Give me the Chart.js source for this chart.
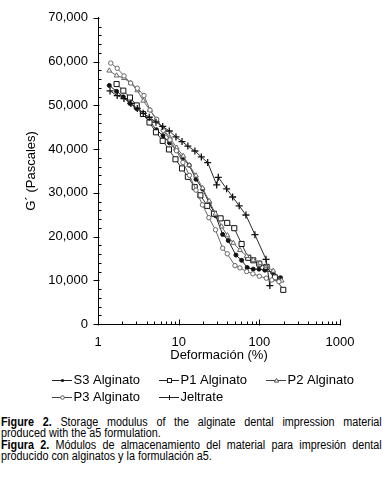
<!DOCTYPE html>
<html>
<head>
<meta charset="utf-8">
<script src="https://cdn.jsdelivr.net/npm/chart.js@4.4.0/dist/chart.umd.min.js"></script>
<style>
html,body{margin:0;padding:0;background:#fff;}
#wrap{position:relative;width:383px;height:479px;overflow:hidden;background:#fff;}
canvas{display:block;}
#cap{position:absolute;left:1px;top:417px;width:423px;transform:scaleX(0.9);transform-origin:0 0;
  font-family:"Liberation Sans",Arial,sans-serif;font-size:12px;line-height:11.4px;color:#000;}
#cap div{white-space:nowrap;}
#cap div.j{text-align:justify;text-align-last:justify;white-space:normal;}
</style>
</head>
<body>
<div id="wrap">
<canvas id="c" width="383" height="410"></canvas>
<div id="cap">
<div class="j"><b>Figure 2.</b> Storage modulus of the alginate dental impression material</div>
<div>produced with the a5 formulation.</div>
<div class="j"><b>Figura 2.</b> Módulos de almacenamiento del material para impresión dental</div>
<div>producido con alginatos y la formulación a5.</div>
</div>
</div>
<script>
// ---- data ----
const seriesNames = ['S3 Alginato', 'P1 Alginato', 'P2 Alginato', 'P3 Alginato', 'Jeltrate'];

const s3X = [1.38,1.70,2.06,2.49,3.00,3.61,4.35,5.31,6.39,7.69,9.26,11.2,13.5,16.4,19.8,23.9,28.7,35.1,41.2,51.3,60.3,70.8,84.0,98.9,117,146,183];
const s3Y = [54537,53186,51926,50418,49293,48010,46366,44408,43058,41415,39839,38039,36305,33087,30836,27685,24759,20482,19064,15756,14563,12897,12537,12537,12312,11772,10579];

const p1X = [1.70,2.06,2.49,3.02,3.61,4.35,5.23,6.34,7.58,9.13,11.0,13.0,15.8,18.6,22.6,27.4,33.1,40.0,48.9,60.3,72.9,84.0,99.7,123,156,198];
const p1Y = [54852,53344,51768,49968,48010,46074,43823,41865,39907,37656,35563,33649,31286,29418,27010,25209,24151,23116,21900,18299,15148,14563,13798,13055,10646,7810];

const p2X = [1.38,1.70,2.10,2.54,3.07,3.64,4.41,5.34,6.45,7.80,9.45,11.4,13.5,16.4,19.8,23.9,28.6,34.1,40.2,47.5,57.5,69.6,84.0,102,123,149,189];
const p2Y = [57913,56788,56202,55077,53411,51026,48910,46659,44566,42540,40289,38421,36305,33920,31061,28135,25209,22283,20257,18524,16881,15531,14630,13955,13167,12154,9904];

const p3X = [1.44,1.73,2.10,2.54,3.07,3.72,4.41,5.34,6.45,7.80,9.39,11.3,13.6,16.4,19.7,23.7,28.6,35.1,40.0,49.9,57.5,69.6,83.3,100,122,143,175];
const p3Y = [59646,58453,56720,55077,53907,52219,48910,46817,44273,42090,39614,36913,33987,30611,27235,24309,21540,17331,16048,13347,12830,11997,11479,10916,10466,10061,9678];

const jeX = [1.41,1.73,2.10,2.56,3.07,3.64,4.32,5.23,6.34,7.65,9.26,11.0,13.0,15.9,19.1,22.9,29.6,31.0,39.3,46.7,56.3,68.2,88.2,121,135];
const jeY = [53276,52218,51543,50418,49293,48167,47267,46141,45174,44116,42765,41708,40672,39547,38196,36913,31804,33537,30903,29035,27010,24916,20415,14788,8778];

// ---- ticks ----
const xMajorTicks = [1, 10, 100, 1000];
const xTickValues = [1,2,3,4,5,6,7,8,9,10,20,30,40,50,60,70,80,90,100,200,300,400,500,600,700,800,900,1000];
const yMajorTicks = [0,10000,20000,30000,40000,50000,60000,70000];
const yTickValues = [0,2000,4000,6000,8000,10000,12000,14000,16000,18000,20000,22000,24000,26000,28000,30000,32000,34000,36000,38000,40000,42000,44000,46000,48000,50000,52000,54000,56000,58000,60000,62000,64000,66000,68000,70000];

const FONT = '"Liberation Sans", Arial, sans-serif';

function pts(xs, ys) { return xs.map((x, i) => ({x: x, y: ys[i]})); }

function legendGlyph(kind, lineColor, markColor) {
  const c = document.createElement('canvas');
  c.width = 60; c.height = 11;
  const g = c.getContext('2d');
  g.strokeStyle = lineColor; g.lineWidth = 1;
  g.beginPath(); g.moveTo(30, 5.5); g.lineTo(50, 5.5); g.stroke();
  g.strokeStyle = markColor; g.fillStyle = markColor;
  const cx = 40.5, cy = 5.5;
  g.beginPath();
  if (kind === 'dot') { g.arc(cx, cy, 1.6, 0, Math.PI * 2); g.fill(); }
  else if (kind === 'square') { g.fillStyle = '#fff'; g.fillRect(cx - 2, cy - 2, 4, 4); g.strokeRect(cx - 2, cy - 2, 4, 4); }
  else if (kind === 'tri') { g.fillStyle = '#fff'; g.moveTo(cx, cy - 2.2); g.lineTo(cx + 2.2, cy + 1.6); g.lineTo(cx - 2.2, cy + 1.6); g.closePath(); g.fill(); g.stroke(); }
  else if (kind === 'circ') { g.fillStyle = '#fff'; g.arc(cx, cy, 1.8, 0, Math.PI * 2); g.fill(); g.stroke(); }
  else if (kind === 'cross') { g.moveTo(cx, cy - 2.5); g.lineTo(cx, cy + 2.5); g.stroke(); }
  return c;
}
const legendGlyphs = [
  legendGlyph('dot', '#222', '#111'),
  legendGlyph('square', '#222', '#222'),
  legendGlyph('tri', '#444', '#555'),
  legendGlyph('circ', '#444', '#555'),
  legendGlyph('cross', '#222', '#111')
];

const tickMarks = {
  id: 'tickMarks',
  afterDraw(chart) {
    const {ctx, chartArea: a} = chart;
    const xs = chart.scales.x, ys = chart.scales.y;
    ctx.save();
    ctx.strokeStyle = '#000'; ctx.lineWidth = 1;
    ctx.beginPath();
    const lx = Math.round(a.left) + 0.5;
    ys.ticks.forEach(t => {
      const py = Math.round(ys.getPixelForValue(t.value)) + 0.5;
      if (yMajorTicks.includes(t.value)) { ctx.moveTo(lx - 5, py); ctx.lineTo(lx + 1, py); }
      else { ctx.moveTo(lx, py); ctx.lineTo(lx + 3, py); }
    });
    const by = Math.round(a.bottom) + 0.5;
    xs.ticks.forEach(t => {
      const px = Math.round(xs.getPixelForValue(t.value)) + 0.5;
      if (xMajorTicks.includes(t.value)) { ctx.moveTo(px, by - 5); ctx.lineTo(px, by + 1); }
      else { ctx.moveTo(px, by - 3); ctx.lineTo(px, by); }
    });
    ctx.stroke();
    ctx.restore();
  }
};

const legendPlace = {
  id: 'legendPlace',
  afterLayout(chart) {
    const l = chart.legend;
    if (!l) return;
    const h = l.height;
    l.left = 33; l.top = 370; l.bottom = 370 + h; l.right = 383;
  }
};

function ds(label, xs, ys, o) {
  return Object.assign({
    label: label, data: pts(xs, ys), borderWidth: 1, tension: 0, fill: false,
    pointBorderWidth: 1, pointHoverRadius: 0
  }, o);
}

new Chart(document.getElementById('c'), {
  type: 'line',
  data: {
    datasets: [
      ds(seriesNames[4], jeX, jeY, {borderColor: '#2a2a2a', pointStyle: 'cross', pointRadius: 3.5, pointBorderColor: '#111', pointBackgroundColor: '#111', pointBorderWidth: 1.3}),
      ds(seriesNames[3], p3X, p3Y, {borderColor: '#666', pointStyle: 'circle', pointRadius: 2.2, pointBorderColor: '#666', pointBackgroundColor: '#fff'}),
      ds(seriesNames[2], p2X, p2Y, {borderColor: '#666', pointStyle: 'triangle', pointRadius: 2.8, pointBorderColor: '#666', pointBackgroundColor: '#fff'}),
      ds(seriesNames[1], p1X, p1Y, {borderColor: '#333', pointStyle: 'rect', pointRadius: 3.6, pointBorderColor: '#111', pointBackgroundColor: '#fff'}),
      ds(seriesNames[0], s3X, s3Y, {borderColor: '#222', pointStyle: 'circle', pointRadius: 2, pointBorderColor: '#111', pointBackgroundColor: '#111'})
    ]
  },
  options: {
    responsive: false,
    animation: false,
    events: [],
    layout: {padding: {left: 0, right: 43, top: 13, bottom: 3}},
    scales: {
      x: {
        type: 'logarithmic', min: 1, max: 1000,
        afterBuildTicks: s => { s.ticks = xTickValues.map(v => ({value: v, major: xMajorTicks.includes(v)})); },
        afterFit: s => { s.height = 39; },
        grid: {display: false, drawTicks: false},
        border: {display: true, color: '#000', width: 1},
        ticks: {
          autoSkip: false, maxRotation: 0, padding: 11, color: '#000',
          font: {family: FONT, size: 13},
          callback: v => xMajorTicks.includes(v) ? String(v) : ''
        },
        title: {display: true, text: 'Deformación (%)', color: '#000', font: {family: FONT, size: 13}, padding: {top: 0, bottom: 0}}
      },
      y: {
        type: 'linear', min: 0, max: 70000,
        afterBuildTicks: s => { s.ticks = yTickValues.map(v => ({value: v})); },
        afterFit: s => { s.width = 98; },
        grid: {display: false, drawTicks: false},
        border: {display: true, color: '#000', width: 1},
        ticks: {
          autoSkip: false, padding: 10, color: '#000',
          font: {family: FONT, size: 13},
          callback: v => yMajorTicks.includes(v) ? v.toLocaleString('en-US') : ''
        },
        title: {display: true, text: 'G´ (Pascales)', color: '#000', font: {family: FONT, size: 13}, padding: {top: 24, bottom: 0}}
      }
    },
    plugins: {
      tooltip: {enabled: false},
      legend: {
        display: true, position: 'bottom', align: 'start',
        labels: {
          usePointStyle: true, pointStyleWidth: 30, padding: 4, color: '#000',
          font: {family: FONT, size: 13},
          sort: (a, b) => seriesNames.indexOf(a.text) - seriesNames.indexOf(b.text),
          generateLabels: chart => {
            const items = Chart.defaults.plugins.legend.labels.generateLabels(chart);
            items.forEach(it => { it.pointStyle = legendGlyphs[seriesNames.indexOf(it.text)]; });
            return items;
          }
        }
      }
    }
  },
  plugins: [tickMarks, legendPlace]
});
</script>
</body>
</html>
